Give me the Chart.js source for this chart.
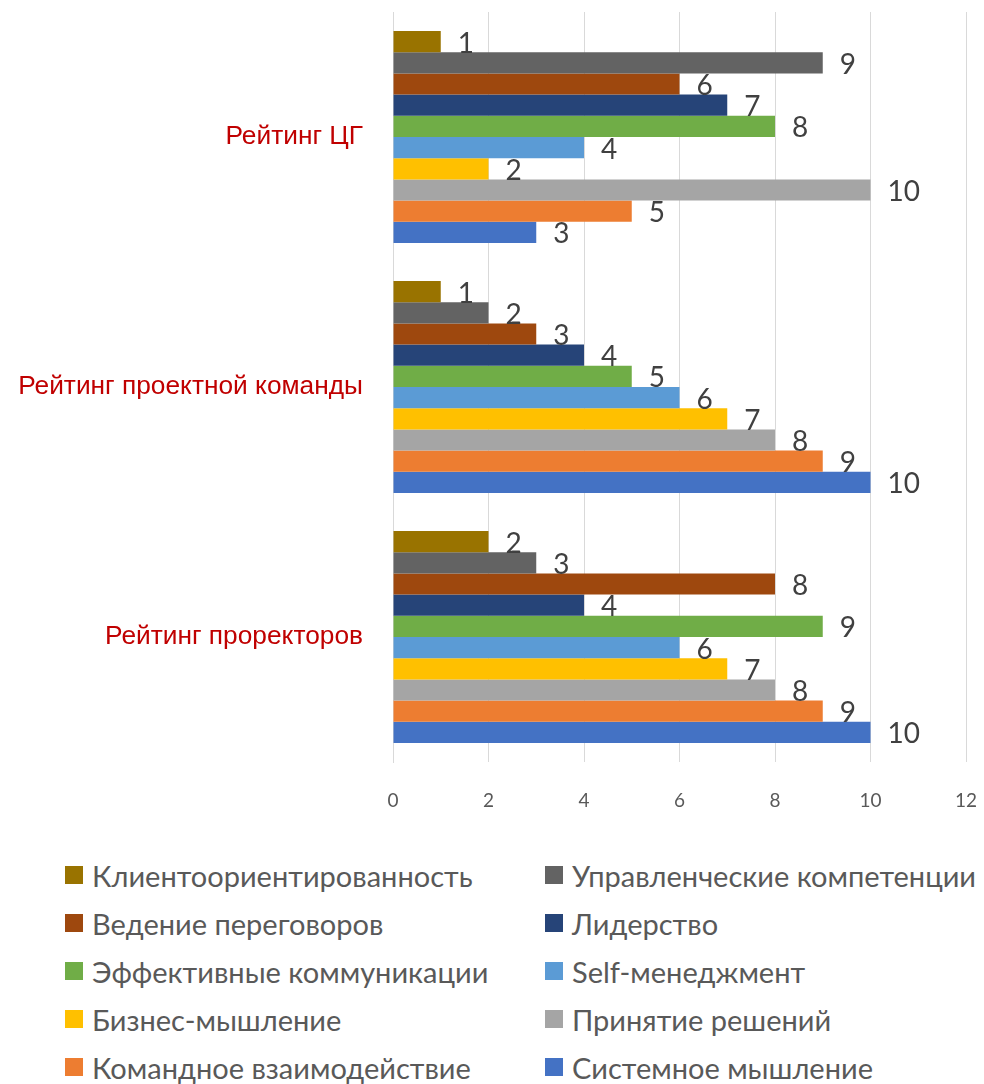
<!DOCTYPE html>
<html>
<head>
<meta charset="utf-8">
<script src="https://cdn.jsdelivr.net/npm/chart.js@4"></script>
<style>
  html, body { margin: 0; padding: 0; background: #fff; }
  #wrap { position: relative; width: 984px; height: 1084px; overflow: hidden; }
  #c { position: absolute; left: 0; top: 0; }
  #legend { position: absolute; left: 0; top: 852px; width: 984px; }
  .row { position: absolute; height: 48px; line-height: 48px; white-space: nowrap;
         font-family: Lato, "Open Sans", sans-serif; font-size: 29px; color: #595959; }
  .sw { position: absolute; top: 14px; width: 18px; height: 18px; }
  .tx { position: absolute; }
</style>
</head>
<body>
<div id="wrap">
  <canvas id="c" width="984" height="830"></canvas>
  <div id="legend"></div>
</div>
<script>
const categories = ['Рейтинг ЦГ', 'Рейтинг проектной команды', 'Рейтинг проректоров'];
const seriesNames = [
  'Клиентоориентированность', 'Управленческие компетенции',
  'Ведение переговоров', 'Лидерство',
  'Эффективные коммуникации', 'Self-менеджмент',
  'Бизнес-мышление', 'Принятие решений',
  'Командное взаимодействие', 'Системное мышление'
];
const klientoorientirovannost = [1, 1, 2];
const upravlencheskie = [9, 2, 3];
const vedeniePeregovorov = [6, 3, 8];
const liderstvo = [7, 4, 4];
const effKommunikacii = [8, 5, 9];
const selfManagement = [4, 6, 6];
const biznesMyshlenie = [2, 7, 7];
const prinyatieResheniy = [10, 8, 8];
const komandnoe = [5, 9, 9];
const sistemnoe = [3, 10, 10];
const seriesValues = [klientoorientirovannost, upravlencheskie, vedeniePeregovorov, liderstvo,
  effKommunikacii, selfManagement, biznesMyshlenie, prinyatieResheniy, komandnoe, sistemnoe];
const xTicks = [0, 2, 4, 6, 8, 10, 12];
const colors = ['#997300', '#636363', '#9E480E', '#264478', '#70AD47',
                '#5B9BD5', '#FFC000', '#A5A5A5', '#ED7D31', '#4472C4'];

const labelPlugin = {
  id: 'barLabels',
  afterDatasetsDraw(chart) {
    const ctx = chart.ctx;
    ctx.save();
    ctx.font = '28px Lato, "Open Sans", sans-serif';
    ctx.fillStyle = '#404040';
    ctx.textAlign = 'left';
    ctx.textBaseline = 'middle';
    chart.data.datasets.forEach((ds, i) => {
      const meta = chart.getDatasetMeta(i);
      meta.data.forEach((el, j) => {
        ctx.fillText(String(ds.data[j]), el.x + 17, el.y + 2);
      });
    });
    ctx.restore();
  }
};

const chart = new Chart(document.getElementById('c'), {
  type: 'bar',
  data: {
    labels: categories,
    datasets: seriesNames.map((n, i) => ({
      label: n,
      data: seriesValues[i],
      backgroundColor: colors[i],
      borderWidth: 0,
      barPercentage: 1,
      categoryPercentage: 0.848
    }))
  },
  options: {
    indexAxis: 'y',
    responsive: false,
    devicePixelRatio: 1,
    animation: false,
    layout: { padding: { top: 12, right: 18, left: 0, bottom: 0 } },
    plugins: { legend: { display: false }, tooltip: { enabled: false } },
    scales: {
      x: {
        min: 0, max: 12,
        afterBuildTicks(axis) { axis.ticks = xTicks.map(v => ({ value: v })); },
        afterFit(axis) { axis.height = 68; axis.paddingLeft = 0; axis.paddingRight = 0; },
        grid: { color: '#D9D9D9', lineWidth: 1, drawTicks: false },
        border: { display: false },
        ticks: { padding: 27, color: '#595959', font: { family: 'Lato, "Open Sans", sans-serif', size: 19 } }
      },
      y: {
        afterFit(axis) { axis.width = 393; axis.paddingTop = 0; axis.paddingBottom = 0; },
        grid: { display: false, drawTicks: false },
        border: { display: true, color: '#D9D9D9', width: 1 },
        ticks: { padding: 30, color: '#C00000', font: { family: '"Liberation Sans", Arial, sans-serif', size: 26.3 } }
      }
    }
  },
  plugins: [labelPlugin]
});

// HTML legend built from the chart's datasets (2 columns)
const legend = document.getElementById('legend');
chart.data.datasets.forEach((ds, i) => {
  const col = i % 2, row = Math.floor(i / 2);
  const r = document.createElement('div');
  r.className = 'row';
  r.style.top = (row * 48) + 'px';
  r.style.left = (col === 0 ? 65 : 545) + 'px';
  const sw = document.createElement('div');
  sw.className = 'sw';
  sw.style.left = '0px';
  sw.style.background = ds.backgroundColor;
  const tx = document.createElement('div');
  tx.className = 'tx';
  tx.style.left = '27px';
  tx.textContent = ds.label;
  r.appendChild(sw); r.appendChild(tx);
  legend.appendChild(r);
});
</script>
</body>
</html>
